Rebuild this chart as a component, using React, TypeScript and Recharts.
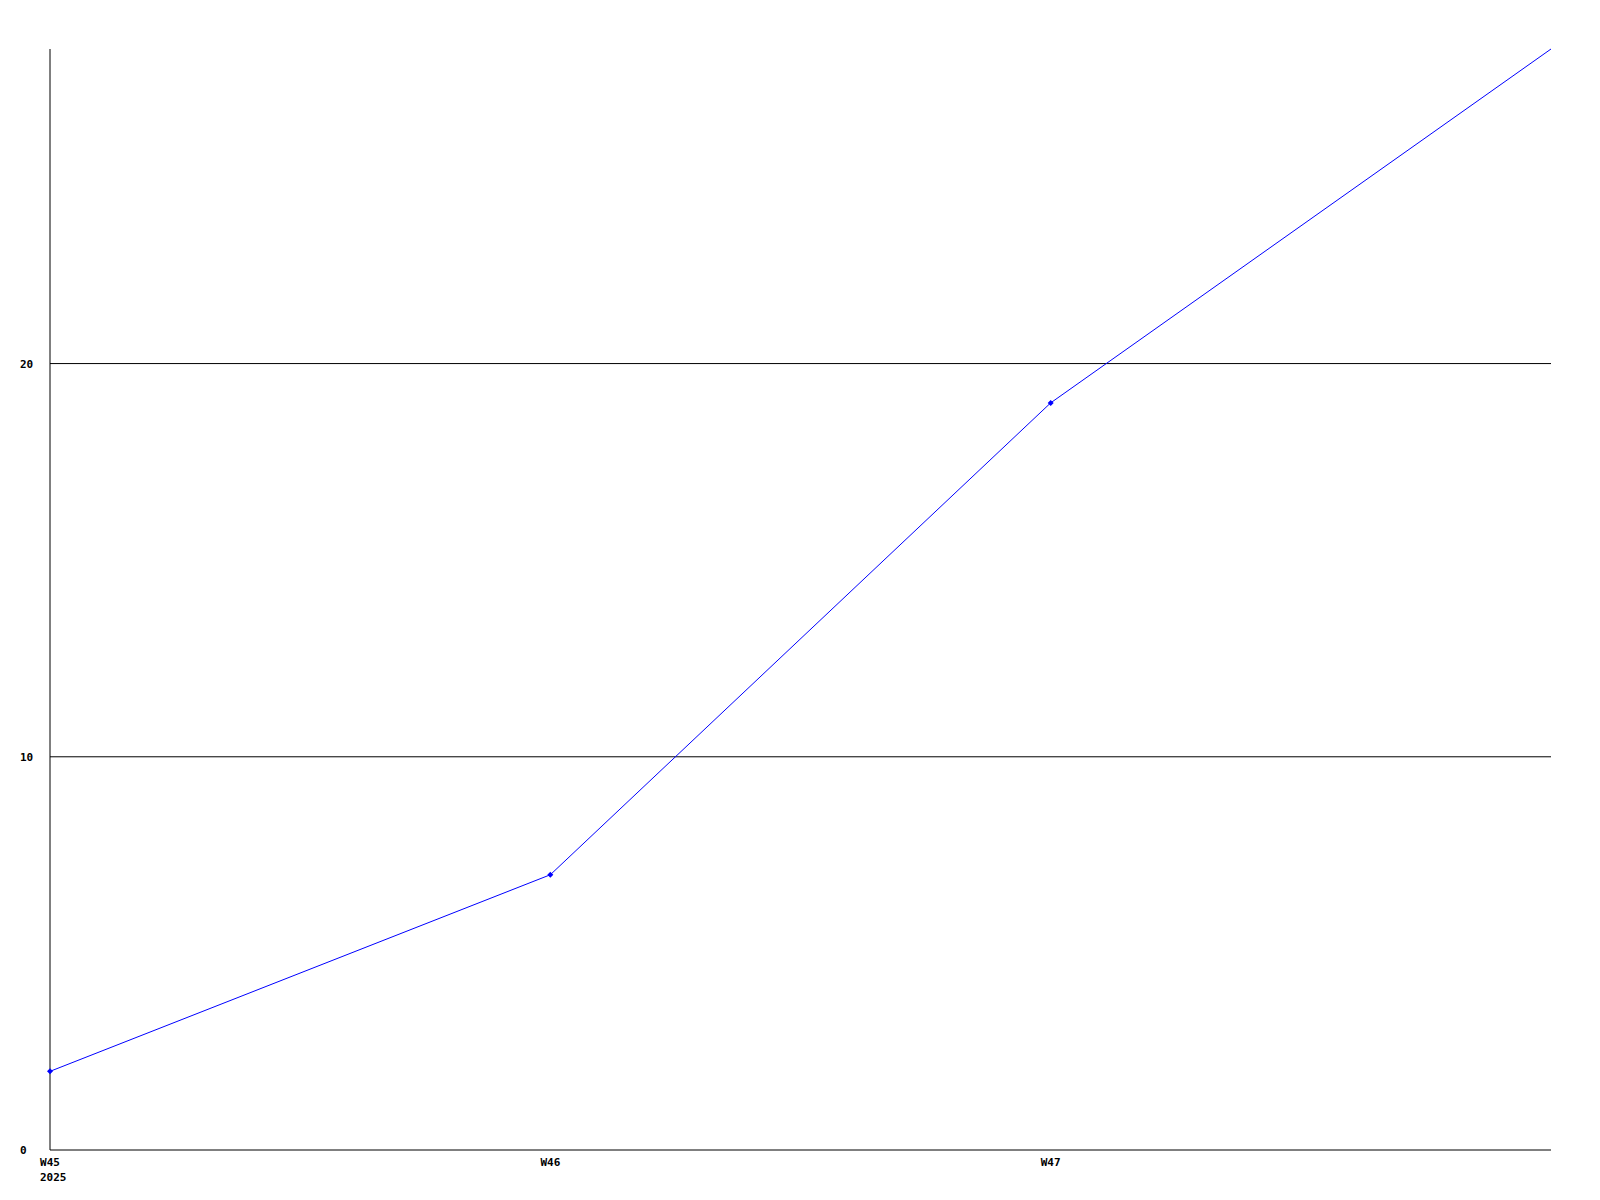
import { LineChart, Line, XAxis, YAxis, CartesianGrid } from 'recharts';

const weeks = ['W45', 'W46', 'W47', 'W48'];
const counts = [2, 7, 19, 28];
const yTicks = [0, 10, 20];
const gridValues = [10, 20];
const xTicks = [0, 1, 2];
const yearLabel = '2025';

const data = weeks.map((w, i) => ({ idx: i, week: w, count: counts[i] }));

const FONT = '"DejaVu Sans Mono", monospace';

function XTick(props: any) {
  const { x, y, payload } = props;
  const label = weeks[payload.value];
  return (
    <g>
      <text x={x} y={y + 16} textAnchor="middle" fontFamily={FONT} fontSize={11} fontWeight="bold" fill="#000">
        {label}
      </text>
      {payload.value === 0 && (
        <text x={x - 10} y={y + 31} textAnchor="start" fontFamily={FONT} fontSize={11} fontWeight="bold" fill="#000">
          {yearLabel}
        </text>
      )}
    </g>
  );
}

function YTick(props: any) {
  const { x, y, payload } = props;
  return (
    <text x={x - 30} y={y + 4} textAnchor="start" fontFamily={FONT} fontSize={11} fontWeight="bold" fill="#000">
      {payload.value}
    </text>
  );
}

function Marker(props: any) {
  const { cx, cy, index } = props;
  if (index === counts.length - 1) return <g key={`m-${index}`} />;
  return (
    <path
      key={`m-${index}`}
      d={`M${cx - 3},${cy} L${cx},${cy - 3} L${cx + 3},${cy} L${cx},${cy + 3} Z`}
      fill="#0000ff"
      stroke="none"
    />
  );
}

export default function App() {
  return (
    <div style={{ position: 'absolute', left: 0, top: 0, width: 1600, height: 1200, background: '#fff' }}>
      <LineChart width={1600} height={1200} data={data} margin={{ top: 49, right: 49, left: 20, bottom: 0 }}>
        <CartesianGrid vertical={false} horizontalValues={gridValues} stroke="#000" strokeWidth={1} />
        <XAxis
          dataKey="idx"
          type="number"
          domain={[0, 3]}
          ticks={xTicks}
          tickLine={false}
          tickSize={0}
          tickMargin={0}
          axisLine={{ stroke: '#000', strokeWidth: 1 }}
          tick={<XTick />}
          height={50}
        />
        <YAxis
          type="number"
          domain={[0, 28]}
          ticks={yTicks}
          tickLine={false}
          tickSize={0}
          tickMargin={0}
          axisLine={{ stroke: '#000', strokeWidth: 1 }}
          tick={<YTick />}
          width={30}
        />
        <Line
          type="linear"
          dataKey="count"
          stroke="#0000ff"
          strokeWidth={1}
          dot={<Marker />}
          activeDot={false}
          isAnimationActive={false}
        />
      </LineChart>
    </div>
  );
}
